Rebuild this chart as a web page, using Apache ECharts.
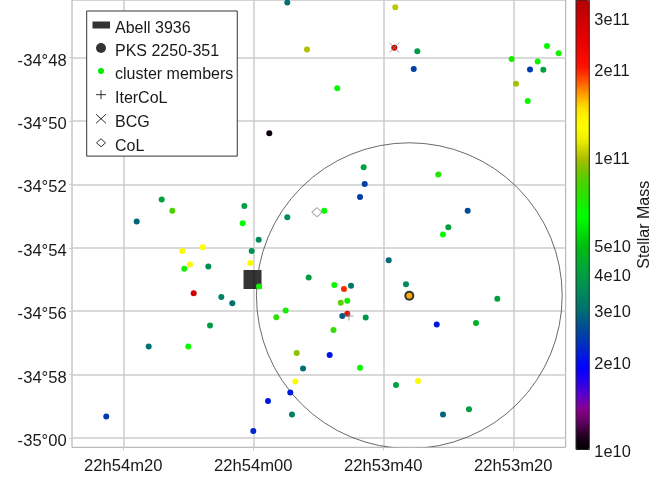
<!DOCTYPE html>
<html>
<head>
<meta charset="utf-8">
<script src="https://cdn.jsdelivr.net/npm/echarts@6/dist/echarts.min.js"></script>
<style>
  html, body { margin: 0; padding: 0; background: #fff; }
  #chart { width: 670px; height: 477px; }
</style>
</head>
<body>
<div id="chart"></div>
<script>
// Cluster members: RA as seconds of time after 22h53m00s,
// Dec as arcminutes relative to -34°00' (more negative = further south),
// stellar mass in solar masses.
const raSec = [
  54.77, 51.74, 47.08, 57.54, 74.09, 72.46, 77.94, 61.38, 61.63, 54.77,
  49.08, 59.17, 38.15, 38.31, 34.77, 35.32, 20.25, 17.43, 16.25, 15.38,
  14.82, 13.02, 19.58, 17.78, 43.02, 42.86, 43.58, 31.54, 27.02, 30.00,
  30.82, 60.25, 70.92, 67.78, 69.74, 70.62, 66.92, 60.46, 59.12, 69.17,
  64.92, 63.23, 66.66, 76.09, 70.00, 82.62, 60.00, 57.74, 54.31, 54.05,
  53.54, 52.35, 53.32, 48.25, 47.66, 51.48, 47.54, 55.02, 56.46, 39.17,
  36.51, 36.00, 46.05, 44.97, 46.55, 45.54, 45.54, 46.31, 42.71, 31.78,
  25.74, 22.46, 43.58, 38.05, 34.66, 30.82, 26.82
];
const decMin = [
  -46.27, -47.75, -48.97, -50.39, -52.48, -52.83, -53.17, -52.68, -53.23, -53.04,
  -52.83, -53.75, -46.42, -47.69, -47.80, -48.36, -48.05, -48.38, -48.13, -48.39,
  -47.64, -47.87, -48.83, -49.37, -51.46, -51.99, -52.40, -51.69, -52.83, -53.35,
  -53.58, -54.10, -54.10, -53.98, -54.53, -54.66, -54.59, -54.48, -55.22, -55.43,
  -55.55, -55.75, -56.45, -57.11, -57.11, -59.32, -59.78, -58.83, -58.56, -59.26,
  -58.22, -57.81, -57.32, -57.38, -56.59, -54.94, -55.17, -55.98, -56.19, -54.39,
  -55.15, -55.51, -55.30, -55.20, -55.73, -55.67, -56.08, -56.15, -56.20, -56.42,
  -56.37, -55.61, -57.78, -58.33, -58.20, -59.26, -59.09
];
const stellarMass = [
  3.0e10, 1.0e11, 6.5e10, 1.05e10, 4.0e10, 8.3e10, 2.9e10, 4.0e10, 6.5e10, 3.6e10,
  6.5e10, 3.4e10, 1.02e11, 3.0e11, 3.8e10, 2.5e10, 7.0e10, 2.4e10, 6.8e10, 4.0e10,
  6.5e10, 6.8e10, 9.8e10, 6.5e10, 4.1e10, 2.5e10, 2.4e10, 7.2e10, 2.6e10, 4.0e10,
  6.5e10, 3.6e10, 1.25e11, 1.3e11, 1.25e11, 6.8e10, 3.6e10, 1.25e11, 6.8e10, 2.8e11,
  3.3e10, 3.0e10, 3.9e10, 3.0e10, 6.5e10, 2.4e10, 2.2e10, 2.1e10, 2.1e10, 3.3e10,
  1.25e11, 3.0e10, 9.3e10, 2.05e10, 7.6e10, 4.0e10, 6.6e10, 6.8e10, 7.6e10, 2.9e10,
  3.5e10, 1.6e11, 1.95e11, 3.1e10, 8.6e10, 7.0e10, 2.3e11, 2.8e10, 3.8e10, 2.1e10,
  4.5e10, 4.0e10, 6.6e10, 4.0e10, 1.25e11, 2.9e10, 4.0e10
];

// Reference positions [RA sec, Dec arcmin]
const abell3936 = [60.12, -55.00];
const pks2250 = [36.00, -55.51];
const iterCoL = [45.28, -56.15];
const bcg = [38.31, -47.69];
const coL = [50.20, -52.88];
const apertureRadiusArcmin = 4.82;

// Axis ticks
const raTicks = [80, 60, 40, 20];
const decTicks = [-48, -50, -52, -54, -56, -58, -60];
const massTicks = [1e10, 2e10, 3e10, 4e10, 5e10, 1e11, 2e11, 3e11];
const massRange = [1e10, 3.44e11];

// Colour scale for log10(stellar mass)
const cmapStops = [
  [10.000, '#000000'], [10.040, '#1a001a'], [10.085, '#550055'], [10.135, '#8c008c'],
  [10.180, '#6000c8'], [10.240, '#2000f0'], [10.280, '#0000ff'], [10.360, '#0030c0'],
  [10.425, '#005090'], [10.477, '#007070'], [10.545, '#008c58'], [10.603, '#00a040'],
  [10.700, '#00c010'], [10.770, '#00f000'], [10.800, '#00ff00'], [10.855, '#20e800'],
  [10.920, '#50d000'], [10.975, '#90c000'], [11.000, '#b0c000'], [11.058, '#f0f000'],
  [11.110, '#ffff00'], [11.170, '#ffe000'], [11.212, '#ffa000'], [11.263, '#ff5000'],
  [11.308, '#ff1000'], [11.400, '#e80000'], [11.485, '#c80000'], [11.537, '#b80000']
];

function hexRgb(h) {
  return [parseInt(h.slice(1, 3), 16), parseInt(h.slice(3, 5), 16), parseInt(h.slice(5, 7), 16)];
}
function cmapAt(L) {
  for (let i = 1; i < cmapStops.length; i++) {
    const a = cmapStops[i - 1], b = cmapStops[i];
    if (L <= b[0]) {
      const t = (L - a[0]) / (b[0] - a[0]);
      const ca = hexRgb(a[1]), cb = hexRgb(b[1]);
      const c = ca.map((v, k) => Math.round(v + (cb[k] - v) * t));
      return 'rgb(' + c.join(',') + ')';
    }
  }
  return cmapStops[cmapStops.length - 1][1];
}
const logMin = Math.log10(massRange[0]);
const logMax = Math.log10(massRange[1]);
const cmapColors = [];
for (let i = 0; i <= 120; i++) cmapColors.push(cmapAt(logMin + (logMax - logMin) * i / 120));

function pad2(n) { return (n < 10 ? '0' : '') + n; }
function raLabel(v) {
  const s = Math.round(v);
  return s >= 60 ? '22h54m' + pad2(s - 60) : '22h53m' + pad2(s);
}
function decLabel(v) {
  const m = Math.round(-v);
  return '-' + (34 + Math.floor(m / 60)) + '°' + pad2(m % 60);
}
function massLabel(v) {
  const e = Math.floor(v + 1e-9);
  return Math.round(Math.pow(10, v - e)) + 'e' + e;
}

const FONT = 'Liberation Sans';
const INK = '#1a1a1a';
const GRIDLINE = '#cccccc';

const memberData = raSec.map((ra, i) => [ra, decMin[i], Math.log10(stellarMass[i])]);

const chart = echarts.init(document.getElementById('chart'));

chart.setOption({
  animation: false,
  backgroundColor: '#fff',
  textStyle: { fontFamily: FONT, color: INK },
  grid: [
    { left: 72, right: 104.3, top: 0, bottom: 29.7, show: true, borderColor: '#aaaaaa', borderWidth: 1,
      backgroundColor: 'transparent', outerBoundsMode: 'none', containLabel: false },
    { left: 576, width: 13.3, top: 0, height: 449.5, show: true, borderColor: '#222', borderWidth: 1,
      backgroundColor: 'transparent', z: 10, outerBoundsMode: 'none', containLabel: false }
  ],
  xAxis: [
    {
      gridIndex: 0, type: 'value', inverse: true, min: 11.94, max: 87.89,
      axisLine: { show: false },
      axisTick: { show: true, length: 3, lineStyle: { color: GRIDLINE }, customValues: raTicks },
      axisLabel: { customValues: raTicks, formatter: raLabel, fontSize: 16.6, color: INK, margin: 11, fontFamily: FONT },
      splitLine: { show: true, lineStyle: { color: GRIDLINE, width: 1.5 } }
    },
    { gridIndex: 1, type: 'value', min: 0, max: 1, show: false }
  ],
  yAxis: [
    {
      gridIndex: 0, type: 'value', min: -60.291, max: -46.188,
      axisLine: { show: false },
      axisTick: { show: true, length: 3, lineStyle: { color: GRIDLINE }, customValues: decTicks },
      axisLabel: { customValues: decTicks, formatter: decLabel, fontSize: 16.6, color: INK, margin: 5.3,
                   verticalAlign: 'top', lineHeight: 7, fontFamily: FONT },
      splitLine: { show: true, lineStyle: { color: GRIDLINE, width: 1.5 } }
    },
    {
      gridIndex: 1, type: 'value', position: 'right', min: logMin, max: logMax,
      name: 'Stellar Mass', nameLocation: 'middle', nameRotate: 90, nameGap: 47,
      nameTextStyle: { fontSize: 16, color: INK, fontFamily: FONT },
      axisLine: { show: true, lineStyle: { color: '#222', width: 1 } },
      axisTick: { show: true, length: 4, inside: false, lineStyle: { color: '#222' },
                  customValues: massTicks.map(Math.log10) },
      axisLabel: { customValues: massTicks.map(Math.log10), formatter: massLabel, fontSize: 16.4, color: INK,
                   margin: 5, verticalAlign: 'top', lineHeight: 5.6, fontFamily: FONT },
      splitLine: { show: false }
    }
  ],
  visualMap: {
    type: 'continuous', seriesIndex: 2, dimension: 2, min: logMin, max: logMax,
    inRange: { color: cmapColors },
    left: 576, top: 0, itemWidth: 13.3, itemHeight: 449.5, padding: 0,
    calculable: false, hoverLink: false, text: null, show: true
  },
  legend: {
    orient: 'vertical', left: 86.7, top: 11,
    itemWidth: 18, itemHeight: 18, itemGap: 5.06,
    padding: [8.8, 4, 0, 4.8],
    borderColor: '#333', borderWidth: 1, backgroundColor: '#fff', borderRadius: 0,
    selectedMode: false,
    textStyle: { fontSize: 16, color: INK, fontFamily: FONT },
    data: [
      { name: 'Abell 3936', icon: 'path://M0,0M18,18M0.5,1.7H18V8.7H0.5Z',
        itemStyle: { color: '#000', borderWidth: 0 } },
      { name: 'PKS 2250-351', icon: 'path://M0,0M18,18M4,5.2A5,5 0 1,0 14,5.2A5,5 0 1,0 4,5.2Z',
        itemStyle: { color: '#000', borderWidth: 0 } },
      { name: 'cluster members', icon: 'path://M0,0M18,18M6,5.2A3,3 0 1,0 12,5.2A3,3 0 1,0 6,5.2Z',
        itemStyle: { color: '#00ee00', borderWidth: 0 } },
      { name: 'IterCoL', icon: 'path://M0,0M18,18M9,0.7V9.7M4,5.2H14',
        itemStyle: { color: 'rgba(0,0,0,0)', borderColor: '#000', borderWidth: 1 } },
      { name: 'BCG', icon: 'path://M0,0M18,18M4,0.7L14,9.7M14,0.7L4,9.7',
        itemStyle: { color: 'rgba(0,0,0,0)', borderColor: '#000', borderWidth: 1 } },
      { name: 'CoL', icon: 'path://M0,0M18,18M9,1.2L13.5,5.2L9,9.2L4.5,5.2Z',
        itemStyle: { color: 'rgba(0,0,0,0)', borderColor: '#000', borderWidth: 1 } }
    ]
  },
  series: [
    {
      name: 'Abell 3936', type: 'scatter', xAxisIndex: 0, yAxisIndex: 0, silent: true, z: 2,
      symbol: 'rect', symbolSize: [18, 19], itemStyle: { color: '#000' },
      data: [abell3936]
    },
    {
      name: 'PKS 2250-351', type: 'scatter', xAxisIndex: 0, yAxisIndex: 0, silent: true, z: 2,
      symbol: 'circle', symbolSize: 10, itemStyle: { color: '#000' },
      data: [pks2250]
    },
    {
      name: 'cluster members', type: 'scatter', xAxisIndex: 0, yAxisIndex: 0, silent: true, z: 4,
      symbol: 'circle', symbolSize: 6, itemStyle: { opacity: 1 },
      data: memberData
    },
    {
      name: 'IterCoL', type: 'scatter', xAxisIndex: 0, yAxisIndex: 0, silent: true, z: 5,
      symbol: 'path://M5,0V10M0,5H10', symbolSize: 9,
      itemStyle: { color: 'rgba(0,0,0,0)', borderColor: '#858585', borderWidth: 1 },
      data: [iterCoL]
    },
    {
      name: 'BCG', type: 'scatter', xAxisIndex: 0, yAxisIndex: 0, silent: true, z: 5,
      symbol: 'path://M0,0L10,10M10,0L0,10', symbolSize: 10,
      itemStyle: { color: 'rgba(0,0,0,0)', borderColor: '#8c8c8c', borderWidth: 1 },
      data: [bcg]
    },
    {
      name: 'CoL', type: 'scatter', xAxisIndex: 0, yAxisIndex: 0, silent: true, z: 5,
      symbol: 'diamond', symbolSize: [10, 9],
      itemStyle: { color: '#fff', borderColor: '#8c8c8c', borderWidth: 1 },
      data: [coL]
    },
    {
      name: 'aperture', type: 'custom', xAxisIndex: 0, yAxisIndex: 0, silent: true, z: 3, clip: true,
      data: [[pks2250[0], pks2250[1], apertureRadiusArcmin]],
      renderItem: function (params, api) {
        const c = api.coord([api.value(0), api.value(1)]);
        const r = api.size([0, api.value(2)])[1];
        return {
          type: 'circle',
          shape: { cx: c[0], cy: c[1], r: r },
          style: { fill: 'none', stroke: '#444', lineWidth: 0.8 }
        };
      }
    }
  ]
});
</script>
</body>
</html>
